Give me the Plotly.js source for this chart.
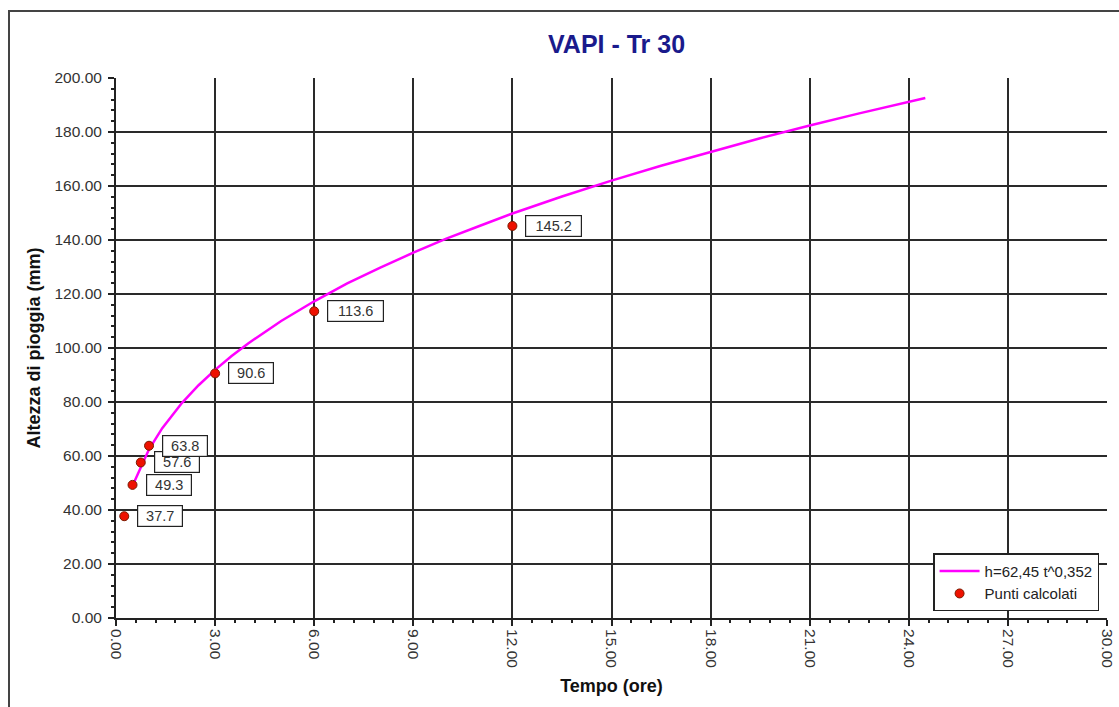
<!DOCTYPE html>
<html>
<head>
<meta charset="utf-8">
<script src="https://cdn.plot.ly/plotly-3.0.1.min.js"></script>
<style>
html,body{margin:0;padding:0;background:#fff;}
#wrap{position:relative;width:1119px;height:707px;overflow:hidden;}
#chart{width:1119px;height:707px;}
#frame{position:absolute;left:8px;top:10px;width:1200px;height:800px;border-left:2px solid #444;border-top:2px solid #444;pointer-events:none;}
</style>
</head>
<body>
<div id="wrap"><div id="chart"></div><div id="frame"></div></div>
<script>
// Calculated points
const pointT = [0.25, 0.5, 0.75, 1, 3, 6, 12];
const pointH = [37.7, 49.3, 57.6, 63.8, 90.6, 113.6, 145.2];
const pointLabels = ["37.7", "49.3", "57.6", "63.8", "90.6", "113.6", "145.2"];

// Fitted curve h=62,45 t^0,352
const curveT = [0.5, 1, 1.4, 2, 2.5, 3, 3.5, 4, 5, 6, 7, 8, 9, 10, 11, 12, 13.5, 15, 16.5, 18, 19.5, 21, 22.5, 24.5];
const curveH = [49, 62.5, 70.3, 79.7, 86.2, 91.9, 97, 101.7, 110, 117.3, 123.9, 129.8, 135.3, 140.5, 145.2, 149.8, 156.1, 162, 167.5, 172.7, 177.7, 182.4, 186.9, 192.6];

const xTicks = [0, 3, 6, 9, 12, 15, 18, 21, 24, 27, 30];
const xTickText = ["0.00", "3.00", "6.00", "9.00", "12.00", "15.00", "18.00", "21.00", "24.00", "27.00", "30.00"];
const yTicks = [0, 20, 40, 60, 80, 100, 120, 140, 160, 180, 200];
const yTickText = ["0.00", "20.00", "40.00", "60.00", "80.00", "100.00", "120.00", "140.00", "160.00", "180.00", "200.00"];

const FONT = 'Liberation Sans, Arial, sans-serif';

const traces = [
  {
    x: curveT, y: curveH, mode: 'lines', type: 'scatter',
    name: 'h=62,45 t^0,352',
    line: {color: '#ff00ff', width: 2.5}
  },
  {
    x: pointT, y: pointH, mode: 'markers', type: 'scatter',
    name: 'Punti calcolati',
    marker: {color: '#ee1100', size: 9, line: {color: '#7a1a00', width: 1}}
  }
];

const annotations = pointT.map((t, i) => ({
  x: t, y: pointH[i], xref: 'x', yref: 'y',
  text: pointLabels[i], showarrow: false,
  xanchor: 'left', yanchor: 'middle', xshift: 13,
  font: {family: FONT, size: 14.5, color: '#333'},
  bgcolor: '#ffffff', bordercolor: '#222', borderwidth: 1.2, borderpad: 1,
  width: pointLabels[i].length * 11 - 2, height: 18
}));

const layout = {
  width: 1119, height: 707,
  margin: {l: 116, r: 12, t: 78, b: 89},
  paper_bgcolor: '#fff', plot_bgcolor: '#fff',
  title: {text: '<b>VAPI - Tr 30</b>', xref: 'container', x: 0.551, xanchor: 'center', y: 0.937, yanchor: 'middle',
          font: {family: FONT, size: 25, color: '#1a1a8c'}},
  xaxis: {
    range: [0, 30], tickmode: 'array', tickvals: xTicks, ticktext: xTickText,
    tickangle: 90, showgrid: true, gridcolor: '#2a2a2a', gridwidth: 2,
    showline: true, linecolor: '#222', linewidth: 2, mirror: false,
    ticks: 'outside', ticklen: 6, tickcolor: '#222', tickwidth: 2,
    minor: {dtick: 0.6, ticks: 'outside', ticklen: 3, tickcolor: '#222', tickwidth: 2, showgrid: false},
    zeroline: false,
    tickfont: {family: FONT, size: 15.5, color: '#333'},
    title: {text: '<b>Tempo (ore)</b>', standoff: 12,
            font: {family: FONT, size: 18, color: '#111'}}
  },
  yaxis: {
    range: [0, 200], tickmode: 'array', tickvals: yTicks, ticktext: yTickText,
    showgrid: true, gridcolor: '#2a2a2a', gridwidth: 2,
    showline: true, linecolor: '#222', linewidth: 2,
    ticks: 'outside', ticklen: 6, tickcolor: '#222', tickwidth: 2,
    ticklabelstandoff: 3,
    minor: {dtick: 4, ticks: 'outside', ticklen: 3, tickcolor: '#222', tickwidth: 2, showgrid: false},
    zeroline: false,
    tickfont: {family: FONT, size: 15.5, color: '#333'},
    title: {text: '<b>Altezza di pioggia (mm)</b>', standoff: 9,
            font: {family: FONT, size: 18, color: '#111'}}
  },
  legend: {
    x: 0.992, xanchor: 'right', y: 0.12, yanchor: 'top',
    bgcolor: '#fff', bordercolor: '#222', borderwidth: 1.5,
    font: {family: FONT, size: 15, color: '#222'},
    itemwidth: 40, tracegroupgap: 0
  },
  showlegend: true,
  annotations: annotations
};

Plotly.newPlot('chart', traces, layout, {displayModeBar: false, staticPlot: true});
</script>
</body>
</html>
